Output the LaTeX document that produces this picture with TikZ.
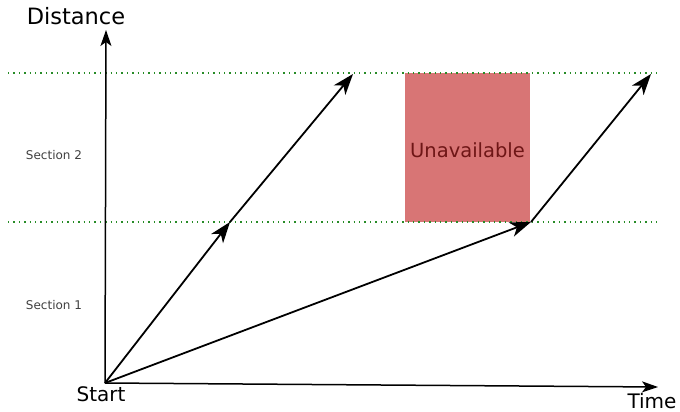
\documentclass[tikz,border=0pt]{standalone}
\usepackage{fontspec}
\setmainfont{DejaVu Sans}
\usetikzlibrary{arrows.meta}
\definecolor{unavail}{RGB}{216,117,117}
\definecolor{unavtext}{RGB}{110,22,22}
\definecolor{secgreen}{RGB}{40,140,40}
\begin{document}
\begin{tikzpicture}[x=1pt,y=-1pt,
  axis/.style={line width=1.5pt,-{Stealth[length=16pt,width=11pt,inset=4pt]}},
  move/.style={line width=1.8pt,-{Stealth[length=21pt,width=15pt,inset=6pt]}},
  secline/.style={secgreen,line width=1.3pt,dash pattern=on 1.3pt off 4.1pt},
  lbl/.style={inner sep=0pt,font=\fontsize{20}{22}\selectfont},
  sec/.style={inner sep=0pt,font=\fontsize{12}{14}\selectfont,text=black!75}]
\useasboundingbox (0,0) rectangle (680,412);
% sections
\fill[unavail] (405,73) rectangle (530,222);
\node[lbl,text=unavtext,font=\fontsize{19.5}{22}\selectfont] (unav) at (467.5,150) {Unavailable};
\coordinate (t1) at (8,73);
\coordinate (t2) at (658,73);
\coordinate (b1) at (8,222);
\coordinate (b2) at (660,222);
\draw[secline] (t1) -- (t2);
\draw[secline] (b1) -- (b2);
\node[sec] (s2) at (54,155) {Section 2};
\node[sec] (s1) at (54,305) {Section 1};
% axes
\coordinate (o) at (105,383);
\coordinate (ytip) at (106,30);
\coordinate (xtip) at (658,387);
\draw[axis] (o) -- (ytip);
\draw[axis] (o) -- (xtip);
\node[lbl,font=\fontsize{22.5}{24}\selectfont,anchor=base] (dist) at (76,25) {Distance};
\node[lbl,anchor=base] (time) at (652,408) {Time};
\node[lbl,anchor=base] (start) at (101,401) {Start};
% trajectories
\coordinate (p1) at (230,222);
\coordinate (p2) at (353,74);
\coordinate (q1) at (531,222);
\coordinate (q2) at (651,74);
\draw[move] (o) -- (p1);
\draw[move] (p1) -- (p2);
\draw[move] (o) -- (q1);
\draw[move] (q1) -- (q2);
\end{tikzpicture}
\end{document}
